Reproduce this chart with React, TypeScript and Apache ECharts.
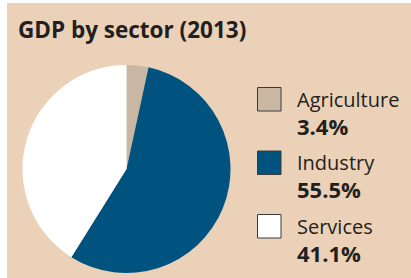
import React, { useEffect, useRef } from "react";
import * as echarts from "echarts";

const categories = ["Agriculture", "Industry", "Services"];
const values = [3.4, 55.5, 41.1];
const valueLabels = ["3.4%", "55.5%", "41.1%"];
const colors = ["#c9b7a3", "#00537f", "#ffffff"];
const titleText = "GDP by sector (2013)";

export default function App() {
  const ref = useRef<HTMLDivElement>(null);
  useEffect(() => {
    if (!ref.current) return;
    const chart = echarts.init(ref.current, null, { renderer: "svg" });
    const font = "'Open Sans', 'Noto Sans', sans-serif";
    const textColor = "#231f20";
    const legendGraphics: any[] = [];
    categories.forEach((c, i) => {
      const top = 87 + i * 63.5;
      legendGraphics.push({
        type: "rect",
        shape: { x: 257.5, y: top + 0.5, width: 23.5, height: 23.5 },
        style: { fill: colors[i], stroke: "#3a3a3a", lineWidth: 1 },
      });
      legendGraphics.push({
        type: "text",
        x: 297,
        y: top + 12,
        style: {
          text: c,
          fill: textColor,
          font: `400 20px ${font}`,
          verticalAlign: "middle",
          align: "left",
        },
      });
      legendGraphics.push({
        type: "text",
        x: 297,
        y: top + 38.5,
        style: {
          text: valueLabels[i],
          fill: textColor,
          font: `700 22px ${font}`,
          verticalAlign: "middle",
          align: "left",
        },
      });
    });
    chart.setOption({
      animation: false,
      backgroundColor: "#ffffff",
      title: {
        text: titleText,
        left: 18,
        top: 18,
        padding: 0,
        textStyle: {
          fontFamily: font,
          fontWeight: 700,
          fontSize: 22.5,
          color: textColor,
        },
      },
      graphic: [
        {
          type: "rect",
          z: -10,
          silent: true,
          shape: { x: 7, y: 3, width: 404, height: 275 },
          style: { fill: "#ead1b8" },
        },
        ...legendGraphics,
      ],
      series: [
        {
          type: "pie",
          center: [126.5, 169],
          radius: 104,
          startAngle: 90,
          clockwise: true,
          label: { show: false },
          labelLine: { show: false },
          emphasis: { disabled: true },
          itemStyle: { borderWidth: 0 },
          data: categories.map((c, i) => ({
            name: c,
            value: values[i],
            itemStyle: { color: colors[i] },
          })),
        },
      ],
    });
    return () => chart.dispose();
  }, []);
  return (
    <div
      ref={ref}
      style={{ position: "absolute", left: 0, top: 0, width: 411, height: 278 }}
    />
  );
}
